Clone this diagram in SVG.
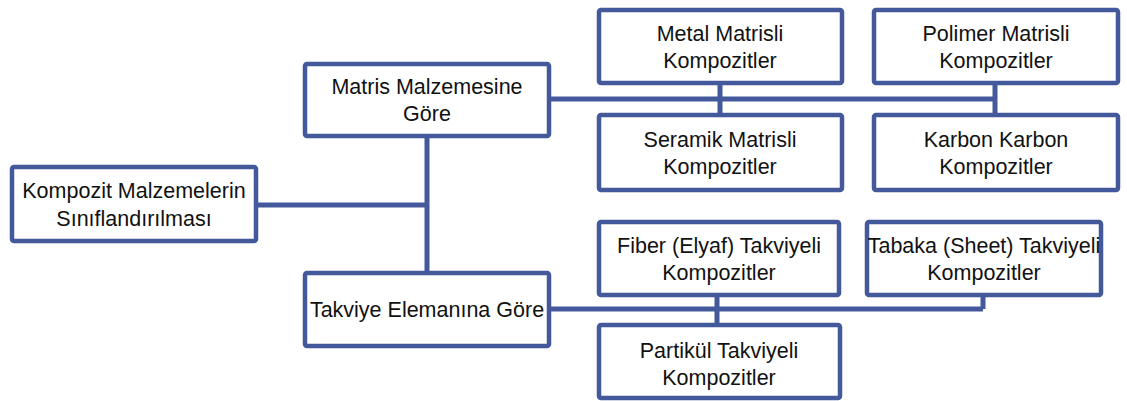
<svg xmlns="http://www.w3.org/2000/svg" width="1127" height="401" viewBox="0 0 1127 401">
<style>
.box{fill:#fff;stroke:#44599b;stroke-width:4.5}
.ln{fill:none;stroke:#44599b;stroke-width:5}
text{font-family:"Liberation Sans",Arial,sans-serif;font-size:21.5px;fill:#111;text-anchor:middle}
</style>
<rect width="1127" height="401" fill="#fff"/>
<g id="connectors">
<path class="ln" d="M256 205H427M427 136V273M549 99H995M720 83V115M995 83V115M549 309H983M717 295V323M983 295V309"/>
</g>
<g id="root"><rect class="box" x="12" y="167" width="244" height="74" rx="2"/><text x="134" y="198">Kompozit Malzemelerin</text><text x="134" y="226">Sınıflandırılması</text></g>
<g id="matris"><rect class="box" x="305" y="64" width="244" height="72" rx="2"/><text x="427" y="94">Matris Malzemesine</text><text x="427" y="121">Göre</text></g>
<g id="takviye"><rect class="box" x="305" y="273" width="244" height="73" rx="2"/><text x="427" y="317">Takviye Elemanına Göre</text></g>
<g id="metal"><rect class="box" x="599" y="10" width="243" height="73" rx="2"/><text x="720" y="41">Metal Matrisli</text><text x="720" y="68">Kompozitler</text></g>
<g id="seramik"><rect class="box" x="599" y="115" width="243" height="75" rx="2"/><text x="720" y="147">Seramik Matrisli</text><text x="720" y="174">Kompozitler</text></g>
<g id="polimer"><rect class="box" x="874" y="10" width="244" height="73" rx="2"/><text x="996" y="41">Polimer Matrisli</text><text x="996" y="68">Kompozitler</text></g>
<g id="karbon"><rect class="box" x="874" y="115" width="244" height="75" rx="2"/><text x="996" y="147">Karbon Karbon</text><text x="996" y="174">Kompozitler</text></g>
<g id="fiber"><rect class="box" x="599" y="222" width="240" height="73" rx="2"/><text x="719" y="253">Fiber (Elyaf) Takviyeli</text><text x="719" y="280">Kompozitler</text></g>
<g id="tabaka"><rect class="box" x="867" y="222" width="234" height="73" rx="2"/><text x="984" y="253">Tabaka (Sheet) Takviyeli</text><text x="984" y="280">Kompozitler</text></g>
<g id="partikul"><rect class="box" x="599" y="325" width="241" height="73" rx="2"/><text x="719" y="358">Partikül Takviyeli</text><text x="719" y="385">Kompozitler</text></g>
</svg>
